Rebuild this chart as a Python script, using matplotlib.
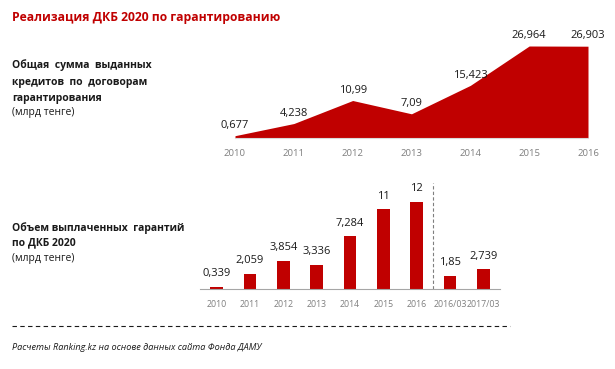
"""Реализация ДКБ 2020 по гарантированию: area + bar panels."""
import matplotlib
matplotlib.use("Agg")
import matplotlib.pyplot as plt
import numpy as np

plt.rcParams["font.family"] = ["Open Sans", "DejaVu Sans"]

RED = "#C00000"
GREY_TICK = "#7F7F7F"
GREY_AXIS = "#D9D9D9"

# top panel: total credits issued under guarantee contracts, bln tenge
credit_years = [2010, 2011, 2012, 2013, 2014, 2015, 2016]
credit_values = [0.677, 4.238, 10.99, 7.09, 15.423, 26.964, 26.903]
credit_labels = ["0,677", "4,238", "10,99", "7,09", "15,423", "26,964", "26,903"]

# bottom panel: guarantees paid out, bln tenge
paid_categories = ["2010", "2011", "2012", "2013", "2014", "2015", "2016", "2016/03", "2017/03"]
paid_values = [0.339, 2.059, 3.854, 3.336, 7.284, 11, 12, 1.85, 2.739]
paid_labels = ["0,339", "2,059", "3,854", "3,336", "7,284", "11", "12", "1,85", "2,739"]

W, H = 615, 369
fig = plt.figure(figsize=(W / 100, H / 100), dpi=100)


def px_axes(left, top, right, bottom):
    return fig.add_axes([left / W, 1 - bottom / H, (right - left) / W, (bottom - top) / H])


# ---- area chart
ax1 = px_axes(235, 30, 588, 138)
ax1.fill_between(credit_years, credit_values, 0, color=RED, linewidth=0)
ax1.set_xlim(2010, 2016)
ax1.set_ylim(0, 26.964 * 108 / 92)
for x, y, lab in zip(credit_years, credit_values, credit_labels):
    ax1.annotate(lab, (x, y), xytext=(0, 3.5), textcoords="offset points",
                 ha="center", va="bottom", fontsize=8, color="#1a1a1a")
ax1.set_xticks(credit_years)
ax1.set_xticklabels([str(y) for y in credit_years], fontsize=6.8, color=GREY_TICK)
ax1.tick_params(axis="x", length=0, pad=8)
ax1.set_yticks([])
for side in ["top", "right", "left"]:
    ax1.spines[side].set_visible(False)
ax1.spines["bottom"].set_color(GREY_AXIS)
ax1.patch.set_alpha(0)

# ---- bar chart
ax2 = px_axes(200, 180, 500, 289)
xs = np.arange(len(paid_categories))
ax2.bar(xs, paid_values, width=0.38, color=RED)
ax2.set_xlim(-0.5, len(paid_categories) - 0.5)
ax2.set_ylim(0, 109 / 7.25)
for x, y, lab in zip(xs, paid_values, paid_labels):
    ax2.annotate(lab, (x, y), xytext=(0, 5.5), textcoords="offset points",
                 ha="center", va="bottom", fontsize=8, color="#1a1a1a")
ax2.axvline(6.5, ymin=0, ymax=0.97, color="#7F7F7F", linestyle=(0, (3, 2)), linewidth=0.8)
ax2.set_xticks(xs)
ax2.set_xticklabels(paid_categories, fontsize=6.3, color=GREY_TICK)
ax2.tick_params(axis="x", length=0, pad=8)
ax2.set_yticks([])
for side in ["top", "right", "left"]:
    ax2.spines[side].set_visible(False)
ax2.spines["bottom"].set_color("#A6A6A6")
ax2.patch.set_alpha(0)

# ---- texts
def fig_text(x, y, s, **kw):
    fig.text(x / W, 1 - y / H, s, va="center", ha="left", **kw)


fig_text(12, 18, "Реализация ДКБ 2020 по гарантированию", fontsize=8.7, fontweight="bold", color=RED)
fig_text(12, 65, "Общая  сумма  выданных", fontsize=7.5, fontweight="bold", color="#1a1a1a")
fig_text(12, 82, "кредитов  по  договорам", fontsize=7.5, fontweight="bold", color="#1a1a1a")
fig_text(12, 98, "гарантирования", fontsize=7.5, fontweight="bold", color="#1a1a1a")
fig_text(12, 113, "(млрд тенге)", fontsize=7.5, color="#1a1a1a")
fig_text(12, 228, "Объем выплаченных  гарантий", fontsize=7.5, fontweight="bold", color="#1a1a1a")
fig_text(12, 243, "по ДКБ 2020", fontsize=7.5, fontweight="bold", color="#1a1a1a")
fig_text(12, 259, "(млрд тенге)", fontsize=7.5, color="#1a1a1a")

fig.add_artist(plt.Line2D([12 / W, 510 / W], [1 - 326 / H, 1 - 326 / H], color="#1a1a1a",
                          linewidth=0.8, linestyle=(0, (4, 3))))
fig_text(12, 348, "Расчеты Ranking.kz на основе данных сайта Фонда ДАМУ",
         fontsize=6.6, style="italic", color="#1a1a1a")

fig.savefig("out.png", dpi=100)
